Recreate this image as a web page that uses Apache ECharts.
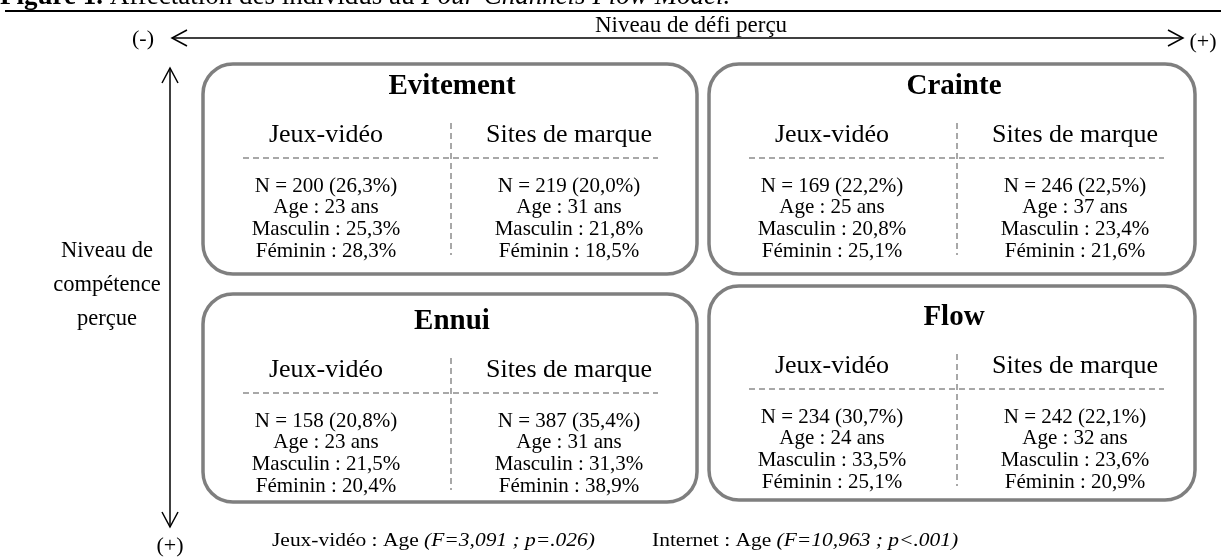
<!DOCTYPE html>
<html>
<head>
<meta charset="utf-8">
<script src="https://cdn.jsdelivr.net/npm/echarts@6/dist/echarts.min.js"></script>
<style>
html,body{margin:0;padding:0;background:#fff;}
#chart{width:1221px;height:558px;}
</style>
</head>
<body>
<div id="chart"></div>
<script>
// ---- data ----
const quadrants = ['Evitement', 'Crainte', 'Ennui', 'Flow'];
const channels = ['Jeux-vidéo', 'Sites de marque'];
const nCounts = [[200, 219], [169, 246], [158, 387], [234, 242]];
const nShares = [[26.3, 20.0], [22.2, 22.5], [20.8, 35.4], [30.7, 22.1]];
const meanAges = [[23, 31], [25, 37], [23, 31], [24, 32]];
const malePct = [[25.3, 21.8], [20.8, 23.4], [21.5, 31.3], [33.5, 23.6]];
const femalePct = [[28.3, 18.5], [25.1, 21.6], [20.4, 38.9], [25.1, 20.9]];
const challengeLabels = ['(-)', 'Niveau de défi perçu', '(+)'];
const skillLabels = ['Niveau de\ncompétence\nperçue', '(+)'];
const noteTexts = [['Jeux-vidéo : Age ', '(F=3,091 ; p=.026)'], ['Internet : Age ', '(F=10,963 ; p<.001)']];
const figureTitle = ['Figure 1.', ' Affectation des individus au ', 'Four-Channels Flow Model.'];

// ---- layout ----
const FONT = "'Liberation Serif', 'Times New Roman', serif";
const boxes = [
  {x: 203, y: 64, w: 494, h: 210, t: 87},
  {x: 709, y: 64, w: 486, h: 210, t: 87},
  {x: 203, y: 294, w: 494, h: 208, t: 322},
  {x: 709, y: 286, w: 486, h: 214, t: 318}
];
const pct = v => v.toFixed(1).replace('.', ',') + '%';
const measureCtx = document.createElement('canvas').getContext('2d');
function textWidth(s, font) { measureCtx.font = font; return measureCtx.measureText(s).width; }

const g = [];
function txt(x, y, text, size, extra) {
  g.push({type: 'text', x: x, y: y, silent: true,
    style: Object.assign({text: text, fontSize: size, fontFamily: FONT, fill: '#000',
      align: 'center', verticalAlign: 'middle'}, extra || {})});
}
function line(x1, y1, x2, y2, style) {
  g.push({type: 'line', silent: true, shape: {x1: x1, y1: y1, x2: x2, y2: y2},
    style: Object.assign({stroke: '#000', lineWidth: 1.5}, style || {})});
}
function poly(pts, style) {
  g.push({type: 'polyline', silent: true, shape: {points: pts},
    style: Object.assign({stroke: '#000', lineWidth: 1.5, fill: null}, style || {})});
}

// figure title (cut off at top) and rule
const titleStyles = [
  {fontWeight: 'bold', fontStyle: 'normal'},
  {fontWeight: 'normal', fontStyle: 'normal'},
  {fontWeight: 'normal', fontStyle: 'italic'}
];
let tx = 0;
figureTitle.forEach(function (part, i) {
  const st = titleStyles[i];
  g.push({type: 'text', x: tx, y: -3, silent: true, style: {
    text: part, fontSize: 27, fontFamily: FONT, fontWeight: st.fontWeight, fontStyle: st.fontStyle,
    fill: '#000', align: 'left', verticalAlign: 'middle'}});
  tx += textWidth(part, st.fontStyle + ' ' + st.fontWeight + ' 27px ' + FONT);
});
line(5, 11, 1221, 11, {lineWidth: 2.2});

// horizontal axis arrow
line(172, 38, 1183, 38);
poly([[187, 30], [172, 38], [187, 46]]);
poly([[1168, 30], [1183, 38], [1168, 46]]);
txt(143, 39, challengeLabels[0], 22);
txt(691, 26, challengeLabels[1], 23);
txt(1203, 42, challengeLabels[2], 22);

// vertical axis arrow
line(170, 68, 170, 527);
poly([[162, 83], [170, 68], [178, 83]]);
poly([[162, 512], [170, 527], [178, 512]]);
txt(107, 285, skillLabels[0], 22.5, {lineHeight: 34});
txt(170, 546, skillLabels[1], 22);

// quadrant boxes
quadrants.forEach(function (name, q) {
  const b = boxes[q];
  g.push({type: 'rect', silent: true, shape: {x: b.x, y: b.y, width: b.w, height: b.h, r: 30},
    style: {fill: null, stroke: '#7f7f7f', lineWidth: 3.5}});
  txt(b.x + b.w / 2 + 2, b.t, name, 29, {fontWeight: 'bold'});
  const dash = {stroke: '#8c8c8c', lineWidth: 1.5, lineDash: [6, 4]};
  line(b.x + 40, b.t + 71, b.x + 455, b.t + 71, dash);
  line(b.x + 248, b.t + 36, b.x + 248, b.t + 168, dash);
  const cols = [b.x + 123, b.x + 366];
  channels.forEach(function (ch, c) {
    const cx = cols[c];
    txt(cx, b.t + 48, ch, 26);
    const rows = [
      'N = ' + nCounts[q][c] + ' (' + pct(nShares[q][c]) + ')',
      'Age : ' + meanAges[q][c] + ' ans',
      'Masculin : ' + pct(malePct[q][c]),
      'Féminin : ' + pct(femalePct[q][c])
    ];
    rows.forEach(function (r, i) { txt(cx, b.t + 99 + i * 21.7, r, 21); });
  });
});

// footnotes
const noteX = [272, 652];
noteTexts.forEach(function (n, i) {
  g.push({type: 'text', x: noteX[i], y: 541, scaleX: 1.13, silent: true, style: {
    text: '{r|' + n[0] + '}{i|' + n[1] + '}',
    fontFamily: FONT, fill: '#000', align: 'left', verticalAlign: 'middle',
    rich: {r: {fontSize: 19, fontFamily: FONT}, i: {fontSize: 19, fontStyle: 'italic', fontFamily: FONT}}
  }});
});

const chart = echarts.init(document.getElementById('chart'), null, {renderer: 'canvas'});
chart.setOption({backgroundColor: '#fff', animation: false, graphic: {elements: g}});
</script>
</body>
</html>
